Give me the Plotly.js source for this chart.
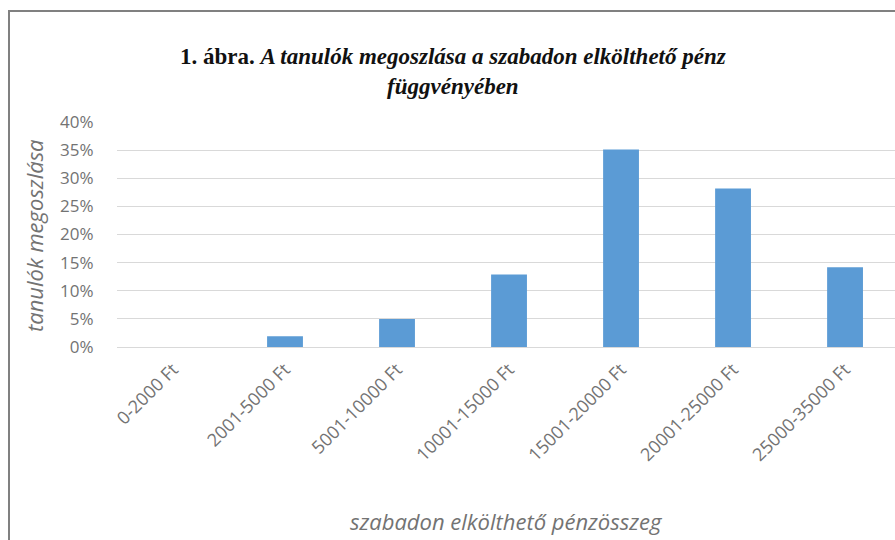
<!DOCTYPE html>
<html>
<head>
<meta charset="utf-8">
<script src="https://cdn.plot.ly/plotly-3.0.1.min.js"></script>
<style>
  html, body { margin: 0; padding: 0; background: #ffffff; }
  #wrap { position: relative; width: 895px; height: 540px; overflow: hidden; }
  #chart { position: absolute; left: 0; top: 0; width: 895px; height: 540px; }
  #frame { position: absolute; left: 8px; top: 10px; width: 900px; height: 540px;
           border-left: 2px solid #808080; border-top: 2px solid #808080; pointer-events: none; }
</style>
</head>
<body>
<div id="wrap">
  <div id="chart"></div>
  <div id="frame"></div>
</div>
<script>
// Data
const categories = ["0-2000 Ft", "2001-5000 Ft", "5001-10000 Ft", "10001-15000 Ft",
                    "15001-20000 Ft", "20001-25000 Ft", "25000-35000 Ft"];
const shares = [0.0, 0.019, 0.05, 0.129, 0.351, 0.282, 0.142];
const yTickVals = [0, 0.05, 0.10, 0.15, 0.20, 0.25, 0.30, 0.35, 0.40];
const yTickText = ["0%", "5%", "10%", "15%", "20%", "25%", "30%", "35%", "40%"];

const titleText = "<b>1. ábra.</b> <b><i>A tanulók megoszlása a szabadon elkölthető pénz</i></b><br><b><i>függvényében</i></b>";
const xTitle = "<i>szabadon elkölthető pénzösszeg</i>";
const yTitle = "<i>tanulók megoszlása</i>";

const labelFont = "'Open Sans', Lato, sans-serif";
const labelColor = "#737373";

const trace = {
  type: "bar",
  x: categories,
  y: shares,
  marker: { color: "#5b9bd5", line: { width: 0 } },
  hoverinfo: "x+y"
};

const layout = {
  width: 895,
  height: 540,
  margin: { l: 117, r: 0, t: 122, b: 193, pad: 0 },
  paper_bgcolor: "#ffffff",
  plot_bgcolor: "#ffffff",
  showlegend: false,
  bargap: 0.68,
  title: {
    text: titleText,
    font: { family: "'Liberation Serif', 'DejaVu Serif', serif", size: 23, color: "#111111" },
    xref: "container", x: 0.506, xanchor: "center",
    yref: "container", y: 1 - 64 / 540, yanchor: "middle"
  },
  xaxis: {
    type: "category",
    range: [-0.5, 6.446],
    tickangle: -45,
    tickfont: { family: labelFont, size: 18, color: labelColor },
    showgrid: false,
    showline: true,
    linecolor: "#d9d9d9",
    linewidth: 1,
    ticks: "outside",
    ticklen: 4,
    tickcolor: "rgba(0,0,0,0)",
    zeroline: false,
    fixedrange: true
  },
  yaxis: {
    range: [0, 0.4],
    tickvals: yTickVals,
    ticktext: yTickText,
    tickfont: { family: labelFont, size: 17, color: labelColor },
    showgrid: true,
    gridcolor: "#d9d9d9",
    gridwidth: 1,
    showline: false,
    zeroline: false,
    ticks: "outside",
    ticklen: 19,
    tickcolor: "rgba(0,0,0,0)",
    fixedrange: true
  },
  annotations: [
    {
      text: xTitle, showarrow: false,
      xref: "paper", yref: "paper",
      x: 0.5, y: (347 - 521) / 225, xanchor: "center", yanchor: "middle",
      font: { family: labelFont, size: 22, color: labelColor }
    },
    {
      text: yTitle, showarrow: false, textangle: -90,
      xref: "paper", yref: "paper",
      x: (34 - 117) / 778, y: (347 - 236) / 225, xanchor: "center", yanchor: "middle",
      font: { family: labelFont, size: 22, color: labelColor }
    }
  ]
};

Plotly.newPlot("chart", [trace], layout, { displayModeBar: false, staticPlot: true });
</script>
</body>
</html>
